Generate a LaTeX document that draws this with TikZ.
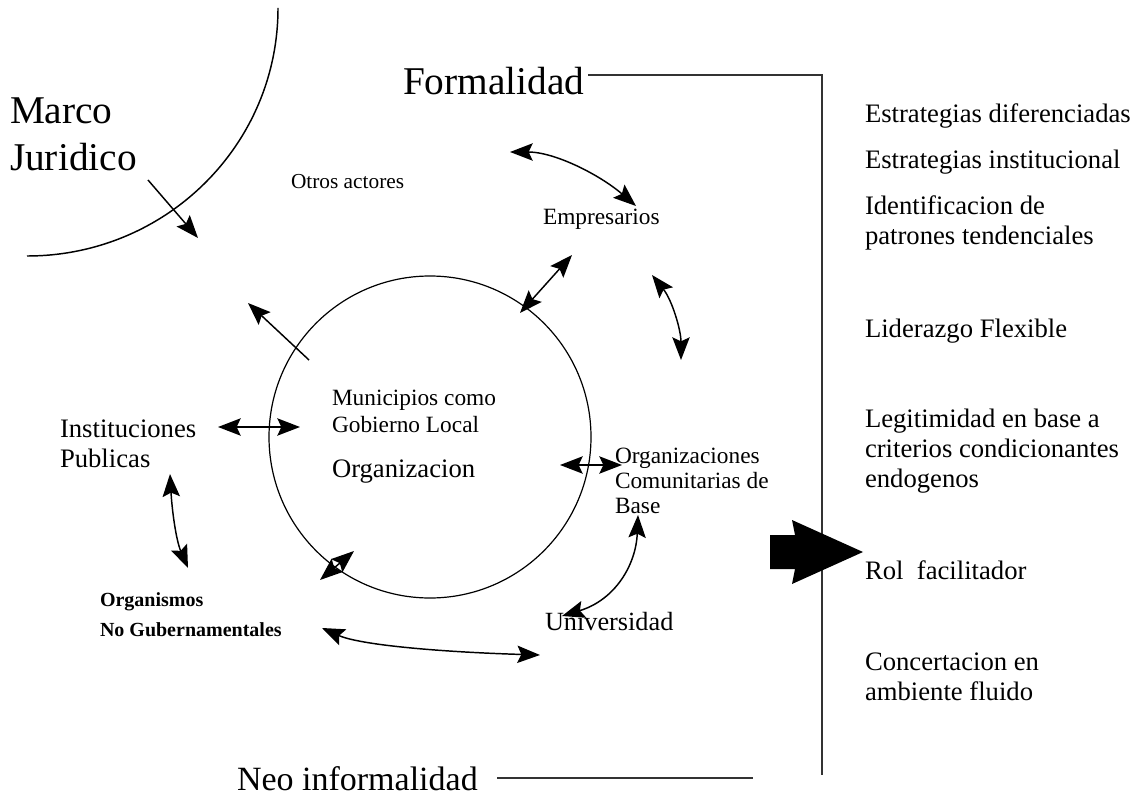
\documentclass[tikz,border=0pt]{standalone}
\usepackage{fontspec}
\setmainfont{Liberation Serif}
\usetikzlibrary{arrows.meta}
\newcommand{\fsz}[2]{\fontsize{#1}{#2}\selectfont}
\newcommand{\stk}[1]{\begin{tabular}[t]{@{}l@{}}#1\end{tabular}}
\begin{document}
\begin{tikzpicture}[x=0.75pt,y=-0.75pt,
  lbl/.style={anchor=base west, inner sep=0pt, outer sep=0pt, text=black},
  big/.style={lbl, font=\fsz{29.5pt}{35.25pt}},
  side/.style={lbl, font=\fsz{20pt}{22.5pt}},
  mid/.style={lbl, font=\fsz{17.5pt}{20.25pt}},
  both/.style={line width=1.1pt, {Stealth[length=17pt,width=13pt,inset=3pt]}-{Stealth[length=17pt,width=13pt,inset=3pt]}},
  one/.style={line width=1.1pt, -{Stealth[length=17pt,width=13pt,inset=3pt]}},
  frame/.style={line width=1.3pt, draw=black!80}
]
\useasboundingbox (0,0) rectangle (1141,798);

% Marco Juridico arc
\draw[line width=1.1pt] (278,8) .. controls (278,145) and (166,256) .. (27,256);

% texts
\node[big] (marco) at (10,124) {\stk{Marco\\Juridico}};
\node[big] (formal) at (403,95) {Formalidad};
\node[big, font=\fsz{25.5pt}{30pt}] (neo) at (237,790) {Neo informalidad};
\node[lbl, font=\fsz{16pt}{18pt}] (otros) at (291,189) {Otros actores};
\node[mid] (empre) at (543,225) {Empresarios};
\node[mid] (muni) at (332,405) {\stk{Municipios como\\Gobierno Local}};
\node[side] (orga) at (332,477) {Organizacion};
\node[side] (inst) at (60,437) {\stk{Instituciones\\Publicas}};
\node[mid, font=\fsz{17.5pt}{18.75pt}] (ocb) at (615,463) {\stk{Organizaciones\\Comunitarias de\\Base}};
\node[side, font=\fsz{19.7pt}{22pt}] (univ) at (545,630) {Universidad};
\node[lbl, font=\fsz{15pt}{22.5pt}\bfseries] (ong) at (100,606) {\stk{Organismos\\No Gubernamentales}};

% right column
\node[side] (r1) at (865,123) {Estrategias diferenciadas};
\node[side] (r2) at (865,169) {Estrategias institucional};
\node[side] (r3) at (865,215) {\stk{Identificacion de\\patrones tendenciales}};
\node[side] (r4) at (865,337) {Liderazgo Flexible};
\node[side] (r5) at (865,427) {\stk{Legitimidad en base a\\criterios condicionantes\\endogenos}};
\node[side] (r6) at (865,579) {Rol\ \ facilitador};
\node[side] (r7) at (865,670) {\stk{Concertacion en\\ambiente fluido}};

% central circle
\node[draw, circle, line width=0.9pt, minimum size=241.5pt, inner sep=0pt] (circ) at (430,437) {};

% frame lines
\coordinate (fA) at (588,75);
\coordinate (fB) at (822,75);
\coordinate (fC) at (822,775);
\draw[frame] (fA) -- (fB) -- (fC);
\coordinate (nA) at (497,778);
\coordinate (nB) at (753,778);
\draw[frame] (nA) -- (nB);

% connector end points
\coordinate (mj1) at (148,180); \coordinate (mj2) at (198,238);
\coordinate (oe1) at (510,152); \coordinate (oe2) at (636,206);
\coordinate (ec1) at (572,255); \coordinate (ec2) at (520,313);
\coordinate (eo1) at (652,275); \coordinate (eo2) at (681,360);
\coordinate (co1) at (309,360); \coordinate (co2) at (248,303);
\coordinate (ic1) at (218,427); \coordinate (ic2) at (300,427);
\coordinate (cg1) at (560,465); \coordinate (cg2) at (622,465);
\coordinate (io1) at (170,474); \coordinate (io2) at (188,568);
\coordinate (dd1) at (320,580); \coordinate (dd2) at (354,551);
\coordinate (ou1) at (322,628); \coordinate (ou2) at (540,655);
\coordinate (gu1) at (638,515); \coordinate (gu2) at (562,616);

\draw[one] (mj1) -- (mj2);
\draw[both] (oe1) .. controls (555,152) and (600,175) .. (oe2);
\draw[both] (ec1) -- (ec2);
\draw[both] (eo1) .. controls (672,300) and (681,330) .. (eo2);
\draw[one] (co1) -- (co2);
\draw[both] (ic1) -- (ic2);
\draw[both] (cg1) -- (cg2);
\draw[both] (io1) .. controls (172,510) and (176,540) .. (io2);
\draw[both] (dd1) -- (dd2);
\draw[both] (ou1) .. controls (360,645) and (440,652) .. (ou2);
\draw[both] (gu1) .. controls (636,565) and (615,600) .. (gu2);

% big arrow
\fill[black] (770,535) -- (795,535) -- (792,520) -- (863,552) -- (792,584) -- (795,569) -- (770,569) -- cycle;
\end{tikzpicture}
\end{document}
